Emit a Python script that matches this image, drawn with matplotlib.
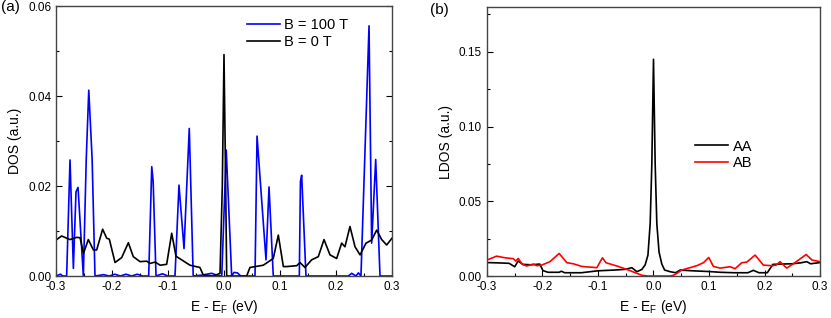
import matplotlib
matplotlib.use('Agg')
from matplotlib import pyplot as plt
from matplotlib.ticker import MultipleLocator, FormatStrFormatter

plt.rcParams['font.family'] = ['Liberation Sans', 'DejaVu Sans']
plt.rcParams['mathtext.default'] = 'regular'
plt.rcParams['axes.unicode_minus'] = False

# (a) DOS, B = 100 T
e_b100 = [-0.3, -0.292, -0.288, -0.281, -0.275, -0.269, -0.2643, -0.2607, -0.2512,
          -0.246, -0.2415, -0.2355, -0.2304, -0.215, -0.205, -0.195, -0.185, -0.175,
          -0.165, -0.155, -0.145, -0.1345, -0.129, -0.1265, -0.1214, -0.11, -0.1,
          -0.0875, -0.0804, -0.0714, -0.062, -0.055, -0.04, -0.022, -0.013, -0.004,
          0.004, 0.0137, 0.018, 0.024, 0.03, 0.045, 0.0554, 0.059, 0.075, 0.0804,
          0.088, 0.11, 0.13, 0.1345, 0.1365, 0.1387, 0.1464, 0.18, 0.222, 0.228,
          0.2357, 0.24, 0.2446, 0.259, 0.2637, 0.2709, 0.2786, 0.3]
dos_b100 = [0.0, 0.0004, 0.0, 0.0, 0.0258, 0.0017, 0.0187, 0.0197, 0.0,
            0.026, 0.0413, 0.026, 0.0, 0.0003, 0.0, 0.0004, 0.0, 0.0004,
            0.0, 0.0004, 0.0, 0.0, 0.0243, 0.021, 0.0, 0.0005, 0.0,
            0.0, 0.0202, 0.0061, 0.0328, 0.0, 0.0002, 0.0006, 0.0002, 0.0,
            0.028, 0.0, 0.0008, 0.0007, 0.0, 0.0, 0.0, 0.0311, 0.0036, 0.0198,
            0.0, 0.0, 0.0, 0.0, 0.021, 0.0224, 0.0, 0.0, 0.0, 0.0006,
            0.0, 0.0007, 0.0, 0.0556, 0.0073, 0.0259, 0.0, 0.0]

# (a) DOS, B = 0 T
e_b0 = [-0.3, -0.29, -0.275, -0.263, -0.257, -0.251, -0.2423, -0.2333, -0.2274,
        -0.2167, -0.2095, -0.2048, -0.1946, -0.1827, -0.1708, -0.162, -0.15, -0.138,
        -0.132, -0.123, -0.114, -0.1024, -0.0934, -0.0857, -0.0607, -0.043, -0.037,
        -0.019, -0.0071, -0.003, 0.0, 0.003, 0.0048, 0.0405, 0.0464, 0.0702, 0.088,
        0.097, 0.106, 0.112, 0.13, 0.1357, 0.1446, 0.1565, 0.1684, 0.1786, 0.1893,
        0.2012, 0.2101, 0.216, 0.225, 0.234, 0.243, 0.2536, 0.2637, 0.2727, 0.2816,
        0.2905, 0.3]
dos_b0 = [0.008, 0.0089, 0.0081, 0.0086, 0.0085, 0.005, 0.0081, 0.0058, 0.0058,
          0.0104, 0.0084, 0.0082, 0.003, 0.0041, 0.0074, 0.0043, 0.0032, 0.0033,
          0.0028, 0.0031, 0.0024, 0.0026, 0.0095, 0.0044, 0.0024, 0.0019, 0.0002,
          0.0, 0.0006, 0.02, 0.0492, 0.02, 0.0, 0.0, 0.0019, 0.0024, 0.0039,
          0.0091, 0.0021, 0.0021, 0.0023, 0.003, 0.0019, 0.0036, 0.0043, 0.0081, 0.0047,
          0.0039, 0.0073, 0.0065, 0.011, 0.0065, 0.0047, 0.0073, 0.008, 0.0102, 0.0081,
          0.0069, 0.0084]

# (b) LDOS, AA site
e_aa = [-0.3, -0.28, -0.26, -0.25, -0.244, -0.235, -0.22, -0.205, -0.199, -0.19,
        -0.17, -0.166, -0.16, -0.13, -0.1, -0.07, -0.05, -0.039, -0.03, -0.021,
        -0.015, -0.01, -0.006, -0.003, 0.0, 0.003, 0.006, 0.01, 0.015, 0.02, 0.03,
        0.04, 0.048, 0.07, 0.1, 0.12, 0.145, 0.17, 0.18, 0.19, 0.205, 0.215, 0.23,
        0.25, 0.265, 0.276, 0.283, 0.3]
ldos_aa = [0.009, 0.0088, 0.0085, 0.0062, 0.010, 0.0078, 0.0075, 0.008, 0.0036, 0.0025,
           0.0025, 0.0032, 0.0022, 0.0022, 0.0035, 0.004, 0.0045, 0.0056, 0.0029, 0.0044,
           0.0075, 0.014, 0.035, 0.075, 0.145, 0.075, 0.035, 0.016, 0.008, 0.004, 0.0029,
           0.0022, 0.004, 0.0035, 0.003, 0.0025, 0.0022, 0.0022, 0.0038, 0.0022, 0.0022,
           0.0078, 0.008, 0.0082, 0.0088, 0.0096, 0.0082, 0.009]

# (b) LDOS, AB site
e_ab = [-0.3, -0.2826, -0.2676, -0.2526, -0.248, -0.2437, -0.2364, -0.2285, -0.2165,
        -0.21, -0.2015, -0.1865, -0.17, -0.156, -0.1445, -0.129, -0.102, -0.092,
        -0.0857, -0.0633, -0.045, -0.03, -0.021, -0.01, 0.03, 0.0357, 0.042, 0.051,
        0.078, 0.09, 0.0995, 0.108, 0.12, 0.138, 0.147, 0.159, 0.168, 0.183, 0.198,
        0.213, 0.221, 0.228, 0.24, 0.252, 0.275, 0.2855, 0.3]
ldos_ab = [0.0107, 0.0133, 0.0122, 0.0116, 0.010, 0.0118, 0.0078, 0.0067, 0.008,
           0.0069, 0.0073, 0.0096, 0.0151, 0.0089, 0.0082, 0.0064, 0.0056, 0.0122,
           0.0089, 0.0064, 0.004, 0.0018, 0.0005, 0.0, 0.0, 0.0005, 0.0018, 0.004,
           0.0069, 0.0089, 0.0124, 0.0064, 0.0053, 0.0062, 0.0049, 0.0089, 0.0093, 0.014, 0.0073,
           0.0069, 0.0073, 0.0096, 0.0053, 0.0082, 0.0144, 0.0107, 0.0096]

fig = plt.figure(figsize=(8.31, 3.18), dpi=100)
ax_a = fig.add_axes([0.0674, 0.132, 0.4043, 0.849])
ax_b = fig.add_axes([0.586, 0.132, 0.4008, 0.846])

ax_a.plot(e_b100, dos_b100, color='#0000ff', lw=1.2, label='B = 100 T')
ax_a.plot(e_b0, dos_b0, color='black', lw=1.2, label='B = 0 T')
ax_a.set_xlim(-0.3, 0.3)
ax_a.set_ylim(0, 0.06)
ax_a.yaxis.set_major_locator(MultipleLocator(0.02))
ax_a.yaxis.set_minor_locator(MultipleLocator(0.01))
ax_a.yaxis.set_major_formatter(FormatStrFormatter('%.2f'))
ax_a.set_ylabel('DOS (a.u.)', fontsize=10)
ax_a.legend(loc='upper right', bbox_to_anchor=(0.91, 1.005), frameon=False,
            fontsize=10.5, handlelength=2.3, handletextpad=0.3, labelspacing=0.2)
ax_a.tick_params(which='both', right=True)

ax_b.plot(e_aa, ldos_aa, color='black', lw=1.2, label='AA')
ax_b.plot(e_ab, ldos_ab, color='#ff0000', lw=1.2, label='AB')
ax_b.set_xlim(-0.3, 0.3)
ax_b.set_ylim(0, 0.18)
ax_b.yaxis.set_major_locator(MultipleLocator(0.05))
ax_b.yaxis.set_minor_locator(MultipleLocator(0.025))
ax_b.yaxis.set_major_formatter(FormatStrFormatter('%.2f'))
ax_b.set_ylabel('LDOS (a.u.)', fontsize=10)
ax_b.legend(loc='center left', bbox_to_anchor=(0.585, 0.45), frameon=False,
            fontsize=10.5, handlelength=2.3, handletextpad=0.3, labelspacing=0.2)

for ax in (ax_a, ax_b):
    ax.xaxis.set_major_locator(MultipleLocator(0.1))
    ax.xaxis.set_minor_locator(MultipleLocator(0.05))
    ax.xaxis.set_major_formatter(FormatStrFormatter('%.1f'))
    ax.set_xlabel('E - E$_F$ (eV)', fontsize=10)
    ax.tick_params(which='both', direction='in', labelsize=8.5)
    ax.tick_params(which='major', length=4, width=0.8)
    ax.tick_params(which='minor', length=2.5, width=0.8)
    for sp in ax.spines.values():
        sp.set_color('#444444')
        sp.set_linewidth(1.0)

fig.text(0.001, 0.965, '(a)', fontsize=11)
fig.text(0.518, 0.955, '(b)', fontsize=11)

fig.savefig('out.png', dpi=100)
